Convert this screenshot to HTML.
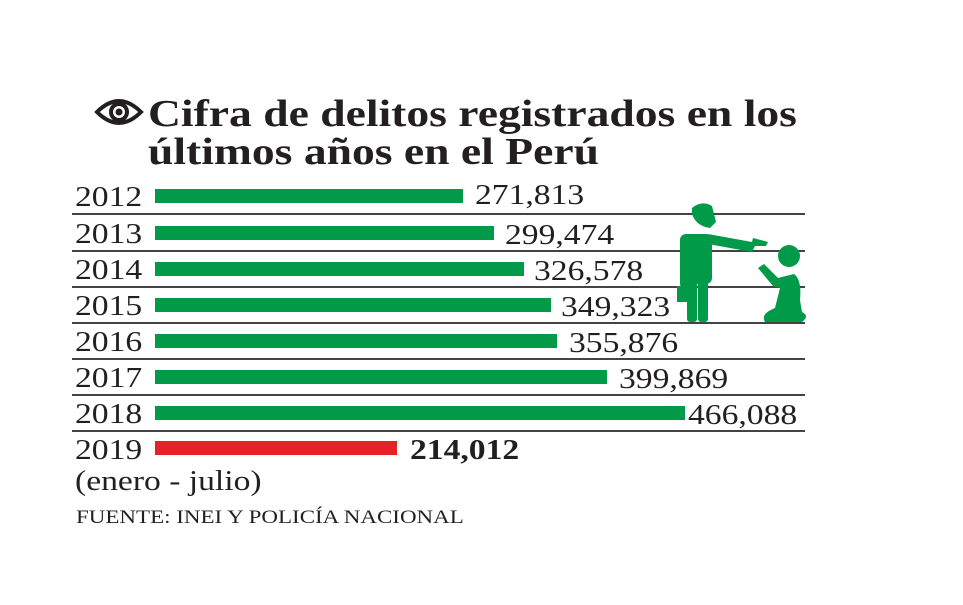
<!DOCTYPE html>
<html><head><meta charset="utf-8"><style>
body{margin:0;width:963px;height:605px;background:#fff;position:relative;overflow:hidden;font-family:"Liberation Serif",serif;color:#231f20}
.t{position:absolute;left:148px;font-weight:bold;font-size:38px;line-height:1;white-space:nowrap;transform:scaleX(1.2);transform-origin:0 0}
.y{position:absolute;left:75px;font-size:28px;line-height:1;transform:scaleX(1.2);transform-origin:0 0;white-space:nowrap}
.v{position:absolute;font-size:28px;line-height:1;transform:scaleX(1.2);transform-origin:0 0}
.b{position:absolute;left:155px;height:14px;background:#009a48}
.l{position:absolute;left:72px;width:733px;height:2px;background:#444}
</style></head><body>
<svg style="position:absolute;left:94px;top:96px" width="50" height="32" viewBox="0 0 50 32">
<path d="M3 16 Q25 -6 47 16 Q25 38 3 16Z" fill="none" stroke="#231f20" stroke-width="4"/>
<circle cx="25" cy="16" r="8" fill="none" stroke="#231f20" stroke-width="4"/>
<circle cx="25" cy="16" r="3.5" fill="#231f20"/>
</svg>
<div class="t" style="top:95px">Cifra de delitos registrados en los</div>
<div class="t" style="top:133px">últimos años en el Perú</div>

<div class="y" style="top:184px">2012</div><div class="b" style="top:189px;width:308px"></div><div class="v" style="left:475px;top:182px">271,813</div>
<div class="l" style="top:213px"></div>
<div class="y" style="top:221px">2013</div><div class="b" style="top:226px;width:339px"></div><div class="v" style="left:505px;top:222px">299,474</div>
<div class="l" style="top:250px"></div>
<div class="y" style="top:257px">2014</div><div class="b" style="top:262px;width:369px"></div><div class="v" style="left:534px;top:258px">326,578</div>
<div class="l" style="top:286px"></div>
<div class="y" style="top:293px">2015</div><div class="b" style="top:298px;width:396px"></div><div class="v" style="left:561px;top:294px">349,323</div>
<div class="l" style="top:322px"></div>
<div class="y" style="top:329px">2016</div><div class="b" style="top:334px;width:402px"></div><div class="v" style="left:569px;top:330px">355,876</div>
<div class="l" style="top:358px"></div>
<div class="y" style="top:365px">2017</div><div class="b" style="top:370px;width:452px"></div><div class="v" style="left:619px;top:366px">399,869</div>
<div class="l" style="top:394px"></div>
<div class="y" style="top:401px">2018</div><div class="b" style="top:406px;width:530px"></div><div class="v" style="left:688px;top:402px">466,088</div>
<div class="l" style="top:430px"></div>
<div class="y" style="top:437px">2019</div><div class="b" style="top:441px;width:242px;background:#e42126"></div><div class="v" style="left:410px;top:437px;font-weight:bold">214,012</div>
<div class="y" style="top:468px">(enero - julio)</div>
<div style="position:absolute;left:76px;top:507px;font-size:19px;transform:scaleX(1.21);transform-origin:0 0;white-space:nowrap">FUENTE: INEI Y POLICÍA NACIONAL</div>

<svg style="position:absolute;left:670px;top:200px" width="140" height="125" viewBox="0 0 140 125" fill="#009a48">
<path d="M22 8 Q32 0 42 6 L46 22 L40 28 Q26 26 22 14Z"/>
<rect x="10" y="34" width="32" height="50" rx="6"/>
<rect x="10" y="36" width="10" height="52" rx="4"/>
<rect x="17" y="76" width="10" height="46" rx="3"/>
<rect x="28" y="76" width="10" height="46" rx="3"/>
<rect x="7" y="86" width="10" height="16"/>
<path d="M38 34 L82 42 L83 38 L98 42 L96 46 L85 46 L82 52 L38 44Z"/>
<circle cx="119" cy="56" r="11"/>
<path d="M88 68 L94 64 L108 78 L124 74 Q132 80 130 100 L132 112 Q140 116 132 122 L95 122 Q90 114 105 108 L110 88 L103 86Z"/>
</svg>
</body></html>
